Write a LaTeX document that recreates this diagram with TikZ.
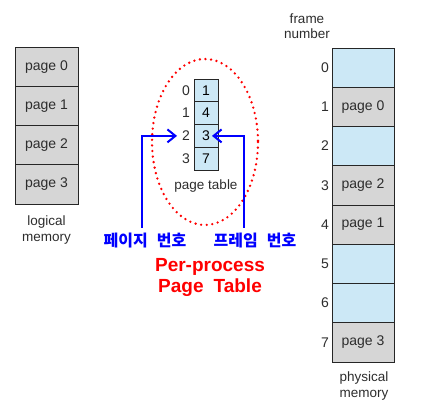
\documentclass[tikz,border=0pt]{standalone}
\usepackage{fontspec}
\setmainfont{Liberation Sans}
\newfontfamily\kofont{Noto Sans CJK KR}
\usetikzlibrary{arrows.meta}
\definecolor{cellgray}{RGB}{214,214,214}
\definecolor{cellblue}{RGB}{204,232,246}
\definecolor{txtgray}{RGB}{45,45,45}
\begin{document}
\begin{tikzpicture}[x=1pt,y=-1pt,
  lcell/.style={draw=black!85, line width=0.9pt, fill=cellgray, minimum width=63pt, minimum height=39.25pt, inner sep=0pt, text=txtgray, font=\fontsize{14}{14}\selectfont},
  pcell/.style={lcell, minimum width=62pt},
  pbcell/.style={pcell, fill=cellblue},
  tcell/.style={draw=black!85, line width=0.9pt, fill=cellblue, minimum width=24pt, minimum height=22.75pt, inner sep=0pt, text=black, font=\fontsize{14}{14}\selectfont},
  lbl/.style={text=txtgray, font=\fontsize{13.5}{15.5}\selectfont, align=center, inner sep=0pt},
  num/.style={text=txtgray, font=\fontsize{14}{14}\selectfont, inner sep=0pt},
  kolbl/.style={text=blue, font=\kofont\bfseries\fontsize{16}{16}\selectfont, inner sep=0pt},
  redlbl/.style={text=red, font=\bfseries\fontsize{19}{21}\selectfont, align=center, inner sep=0pt},
  dotring/.style={draw=red, line width=2.6pt, line cap=round, dash pattern=on 0pt off 5.6pt},
  barrow/.style={draw=blue, line width=2pt, -{Straight Barb[length=8pt,width=13pt,line width=2pt]}}
]
\useasboundingbox (0,0) rectangle (426,419);
% logical memory
\node[lcell] (l0) at (46.5,66.6) {page 0};
\node[lcell] (l1) at (46.5,105.9) {page 1};
\node[lcell] (l2) at (46.5,145.1) {page 2};
\node[lcell] (l3) at (46.5,184.4) {page 3};
\node[lbl] (llab) at (46.5,230) {logical\\memory};
% page table
\coordinate (ellc) at (205,142);
\draw[dotring] (ellc) ellipse [x radius=53, y radius=83];
\node[tcell] (t0) at (206,90.4) {1};
\node[tcell] (t1) at (206,113.1) {4};
\node[tcell] (t2) at (206,135.9) {3};
\node[tcell] (t3) at (206,158.6) {7};
\node[num] (i0) at (186,90.4) {0};
\node[num] (i1) at (186,113.1) {1};
\node[num] (i2) at (186,135.9) {2};
\node[num] (i3) at (186,158.6) {3};
\node[lbl] (tlab) at (206,186) {page table};
% physical memory
\node[pbcell] (f0) at (363,67.6) {};
\node[pcell] (f1) at (363,106.9) {page 0};
\node[pbcell] (f2) at (363,146.1) {};
\node[pcell] (f3) at (363,185.4) {page 2};
\node[pcell] (f4) at (363,224.6) {page 1};
\node[pbcell] (f5) at (363,263.9) {};
\node[pbcell] (f6) at (363,303.1) {};
\node[pcell] (f7) at (363,342.4) {page 3};
\foreach \k in {0,...,7} {
  \node[num, anchor=east] (n\k) at (329,{67.6+39.25*\k}) {\k};
}
\node[lbl] (flab) at (307,26) {frame\\number};
\node[lbl] (plab) at (364,386) {physical\\memory};
% arrows
\coordinate (lb) at (142,228);
\coordinate (rb) at (244,228);
\draw[barrow, shorten >=9pt] (lb) |- (i2.center);
\draw[barrow, shorten >=6pt] (rb) |- (t2.center);
\node[kolbl] (k1) at (145,241) {페이지\hspace{9pt}번호};
\node[kolbl] (k2) at (255,241) {프레임\hspace{9pt}번호};
\node[redlbl] (ppt) at (210,277) {Per-process\\Page\hspace{10pt}Table};
\end{tikzpicture}
\end{document}
